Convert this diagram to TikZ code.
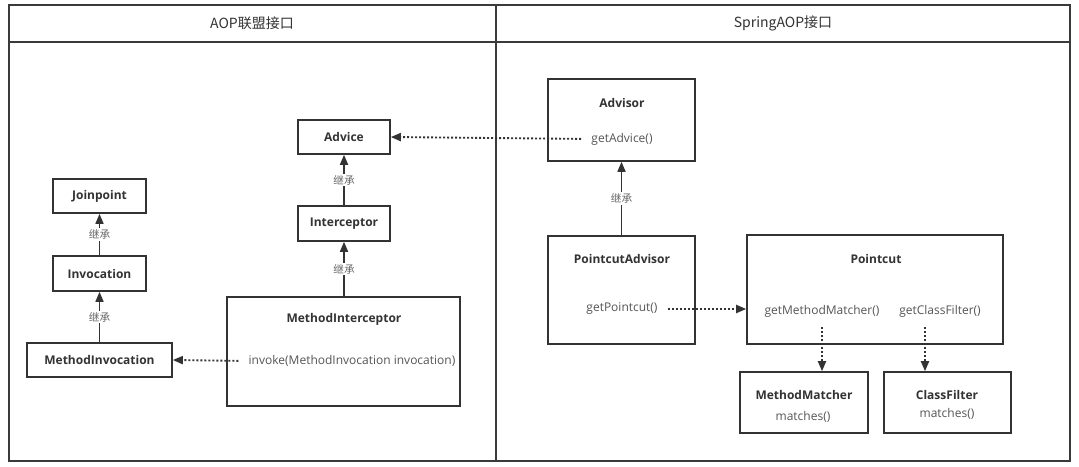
\documentclass[tikz,border=0pt]{standalone}
\usepackage{fontspec}
\setmainfont{Open Sans}
\newfontfamily\cjk{Noto Sans CJK SC}
\usetikzlibrary{arrows.meta}
\definecolor{lineC}{HTML}{333333}
\definecolor{frameC}{HTML}{3A3A3A}
\definecolor{nameC}{HTML}{333333}
\definecolor{methC}{HTML}{555555}
\definecolor{lblC}{HTML}{666666}
\def\pxu{0.75pt}
\begin{document}
\begin{tikzpicture}[x=0.75pt,y=-0.75pt,
  box/.style={draw=lineC,line width=1.2pt,fill=white,inner sep=0pt},
  sbox/.style={box,font=\bfseries\fontsize{9}{11}\selectfont,text=nameC},
  nm/.style={font=\bfseries\fontsize{9}{11}\selectfont,text=nameC,inner sep=0pt},
  meth/.style={font=\fontsize{9}{11}\selectfont,text=methC,inner sep=0pt},
  inh/.style={draw=lineC,line width=1.2pt,-{Triangle[length=7.5pt,width=6pt]}},
  dep/.style={draw=lineC,line width=1.4pt,dash pattern=on 1.5pt off 1.5pt,-{Triangle[length=7.5pt,width=6pt]},shorten <=7.5pt},
  lbl/.style={fill=white,inner sep=1pt,font=\cjk\fontsize{8}{9}\selectfont,text=lblC},
  ttl/.style={font=\cjk\fontsize{10.5}{12}\selectfont,text=nameC},
  frame/.style={draw=frameC,line width=1.5pt}
]
\fill[white] (0,0) rectangle (1079,467);
\useasboundingbox (0,0) rectangle (1079,467);
% frame
\draw[frame] (9,5) rectangle (1070,461);
\draw[frame] (9,42) -- (1070,42);
\draw[frame] (496,5) -- (496,461);
\node[ttl] (t1) at (252,23) {AOP联盟接口};
\node[ttl] (t2) at (783,23) {SpringAOP接口};

% left part
\node[sbox,minimum width=93*\pxu,minimum height=34*\pxu] (joinpoint) at (99.5,196) {Joinpoint};
\node[sbox,minimum width=93*\pxu,minimum height=35*\pxu] (invocation) at (99.5,273.5) {Invocation};
\node[sbox,minimum width=145*\pxu,minimum height=34*\pxu] (minv) at (99.5,360) {MethodInvocation};
\node[sbox,minimum width=92*\pxu,minimum height=34*\pxu] (advice) at (344,137) {Advice};
\node[sbox,minimum width=92*\pxu,minimum height=35*\pxu] (interceptor) at (344,223.5) {Interceptor};
\node[box,minimum width=233*\pxu,minimum height=109*\pxu] (mint) at (343.5,351.5) {};
\node[nm] (mintT) at (344,319) {MethodInterceptor};
\node[meth] (invoke) at (352,361) {invoke(MethodInvocation invocation)};

% right part
\node[box,minimum width=147*\pxu,minimum height=82*\pxu] (advisor) at (621.5,120) {};
\node[nm] (advisorT) at (622,103) {Advisor};
\node[meth] (getadvice) at (622,139) {getAdvice()};
\node[box,minimum width=147*\pxu,minimum height=108*\pxu] (padvisor) at (621.5,290) {};
\node[nm] (padvisorT) at (622,259) {PointcutAdvisor};
\node[meth] (getpc) at (622,309) {getPointcut()};
\node[box,minimum width=256*\pxu,minimum height=109*\pxu] (pointcut) at (875,289.5) {};
\node[nm] (pointcutT) at (876,259) {Pointcut};
\node[meth] (gmm) at (822,311) {getMethodMatcher()};
\node[meth] (gcf) at (940,311) {getClassFilter()};
\node[box,minimum width=128*\pxu,minimum height=61*\pxu] (mm) at (804,402.5) {};
\node[nm] (mmT) at (804,395) {MethodMatcher};
\node[meth] (mmM) at (803,417) {matches()};
\node[box,minimum width=127*\pxu,minimum height=61*\pxu] (cf) at (947.5,402.5) {};
\node[nm] (cfT) at (947,395) {ClassFilter};
\node[meth] (cfM) at (947,414) {matches()};

% inheritance
\draw[inh] (invocation.north) -- node[lbl] {继承} (joinpoint.south);
\draw[inh] (minv.north) -- node[lbl] {继承} (invocation.south);
\draw[inh] (interceptor.north) -- node[lbl] {继承} (advice.south);
\draw[inh] (mint.north -| interceptor.south) -- node[lbl] {继承} (interceptor.south);
\draw[inh] (padvisor.north) -- node[lbl] {继承} (advisor.south);

% dependencies
\draw[dep] (getadvice.west) -- (advice.east);
\draw[dep] (invoke.west) -- (minv.east);
\draw[dep] (getpc.east) -- (pointcut.west |- getpc.east);
\draw[dep] (gmm.south) -- (gmm.south |- mm.north);
\draw[dep] ([xshift=-11.25pt]gcf.south) -- ([xshift=-11.25pt]gcf.south |- cf.north);
\end{tikzpicture}
\end{document}
